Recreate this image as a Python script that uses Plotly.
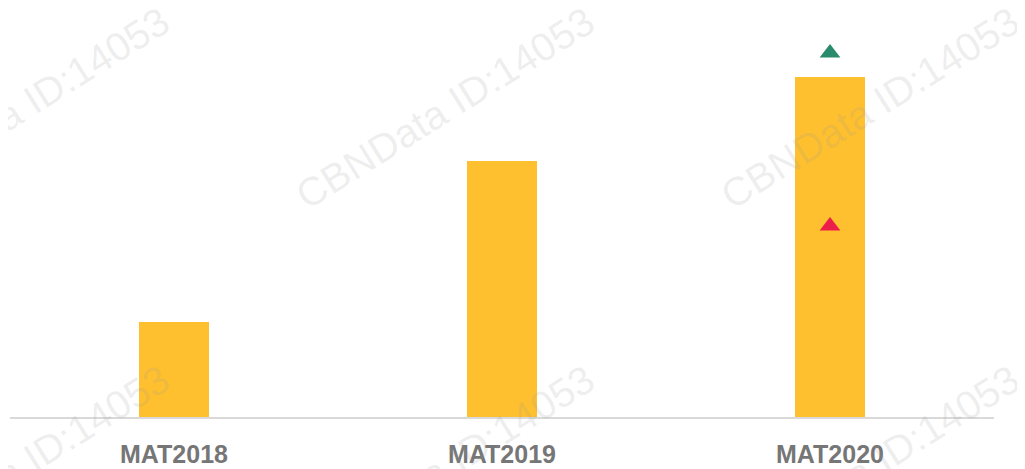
import plotly.graph_objects as go

# bar values (arbitrary units)
periods = ["MAT2018", "MAT2019", "MAT2020"]
sales = [95, 256, 340]

# triangle markers over the last period
green_period = ["MAT2020"]
green_value = [364]
red_period = ["MAT2020"]
red_value = [191]

watermark = "CBNData ID:14053"
wm_x = [0.01, 0.442, 0.874]
wm_y = [0.755, -0.12]

fig = go.Figure()
fig.add_trace(go.Bar(x=periods, y=sales, marker_color="#FFC02F", width=0.216,
                     marker_line_width=0))
fig.add_trace(go.Scatter(x=green_period, y=green_value, mode="markers",
                         marker=dict(symbol="triangle-up", size=18, color="#2A8A6C")))
fig.add_trace(go.Scatter(x=red_period, y=red_value, mode="markers",
                         marker=dict(symbol="triangle-up", size=18, color="#EC1F4B")))

for yy in wm_y:
  for xx in wm_x:
    fig.add_annotation(text=watermark, xref="paper", yref="paper", x=xx, y=yy,
                       xanchor="center", yanchor="middle",
                       showarrow=False, textangle=-32,
                       font=dict(family="Liberation Sans", size=40, color="rgba(150,150,150,0.16)"))

# page body has an 8px margin, so the figure is a bit smaller than the window
fig.update_layout(
  width=1017, height=461,
  margin=dict(l=2, r=31, t=0, b=52, autoexpand=False),
  plot_bgcolor="white", paper_bgcolor="white",
  showlegend=False,
  bargap=0,
)
fig.update_xaxes(showline=True, linecolor="#D9D9D9", linewidth=1.5, showgrid=False,
                 ticks="", ticklabelstandoff=14,
                 tickfont=dict(family="Liberation Sans", size=25, color="#767676", weight="bold"))
fig.update_yaxes(visible=False, range=[0, 409])

fig.write_html("out.html")
